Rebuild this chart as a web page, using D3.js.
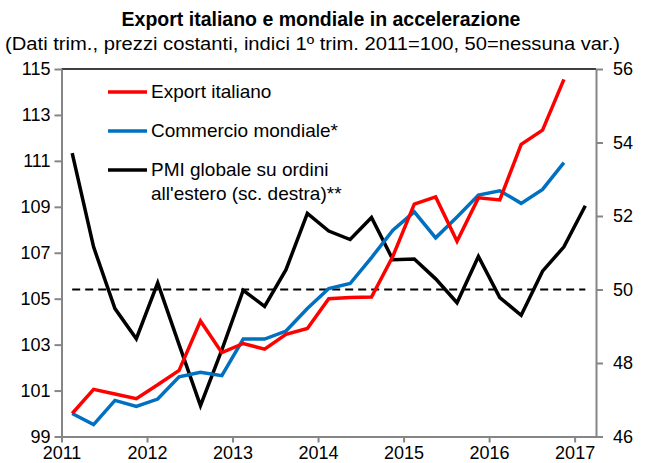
<!DOCTYPE html>
<html>
<head>
<meta charset="utf-8">
<script src="https://cdn.jsdelivr.net/npm/d3@7"></script>
<style>
  body { margin: 0; background: #fff; }
  svg { display: block; font-family: "Liberation Sans", Arial, sans-serif; }
</style>
</head>
<body>
<div id="chart"></div>
<script>
// Quarters from Q1 2011 to Q1 2017
const quarters = [
  "2011Q1", "2011Q2", "2011Q3", "2011Q4",
  "2012Q1", "2012Q2", "2012Q3", "2012Q4",
  "2013Q1", "2013Q2", "2013Q3", "2013Q4",
  "2014Q1", "2014Q2", "2014Q3", "2014Q4",
  "2015Q1", "2015Q2", "2015Q3", "2015Q4",
  "2016Q1", "2016Q2", "2016Q3", "2016Q4",
  "2017Q1"
];

// Export italiano (left axis, Q1 2011 = 100)
const exportIta = [
  100.0, 101.05, 100.85, 100.65, 101.25, 101.88, 104.03, 102.65,
  103.05, 102.8, 103.45, 103.7, 105.0, 105.05, 105.07, 106.85,
  109.12, 109.43, 107.5, 109.39, 109.3, 111.72, 112.34, 114.55
];

// Commercio mondiale (left axis)
const worldTrade = [
  100.0, 99.52, 100.57, 100.31, 100.63, 101.6, 101.8, 101.65,
  103.24, 103.24, 103.59, 104.57, 105.44, 105.66, 106.79, 107.98,
  108.78, 107.65, 108.56, 109.51, 109.7, 109.15, 109.76, 110.92
];

// PMI globale su ordini all'estero (right axis)
const pmiExport = [
  53.71, 51.16, 49.48, 48.66, 50.18, 48.5, 46.84, 48.36,
  49.98, 49.54, 50.54, 52.07, 51.59, 51.36, 51.96, 50.81,
  50.83, 50.29, 49.64, 50.9, 49.78, 49.3, 50.5, 51.16,
  52.28
];

// Axis ticks
const leftTicks = [99, 101, 103, 105, 107, 109, 111, 113, 115];
const rightTicks = [46, 48, 50, 52, 54, 56];
const yearLabels = ["2011", "2012", "2013", "2014", "2015", "2016", "2017"];
const noChange = 50;

const width = 647;
const height = 463;
const margin = {top: 69, right: 51, bottom: 26.5, left: 61.5};

const red = "#ff0000";
const blue = "#0070c0";
const black = "#000000";
const grey = "#868686";

const svg = d3.select("#chart")
  .append("svg")
  .attr("width", width)
  .attr("height", height);

// ------ Scales ------- //
const xScale = d3.scaleLinear()
  .domain([0, quarters.length])
  .range([margin.left, width - margin.right]);
const xPos = i => xScale(i + 0.5);

const yLeft = d3.scaleLinear()
  .domain([99, 115])
  .range([height - margin.bottom, margin.top]);
const yRight = d3.scaleLinear()
  .domain([46, 56])
  .range([height - margin.bottom, margin.top]);

// ------ Title ------- //
svg.append("text")
  .text("Export italiano e mondiale in accelerazione")
  .attr("x", 321)
  .attr("y", 26)
  .attr("text-anchor", "middle")
  .attr("font-size", 19.5)
  .attr("font-weight", "bold");
svg.append("text")
  .text("(Dati trim., prezzi costanti, indici 1º trim. 2011=100,  50=nessuna var.)")
  .attr("x", 5)
  .attr("y", 50)
  .attr("font-size", 17.5)
  .attr("textLength", 615)
  .attr("lengthAdjust", "spacingAndGlyphs");

// ------ Axes ------- //
// Top border
svg.append("line")
  .attr("x1", xScale(0))
  .attr("x2", xScale(quarters.length))
  .attr("y1", margin.top)
  .attr("y2", margin.top)
  .attr("stroke", black)
  .attr("stroke-width", 1.5);

const leftAxis = d3.axisLeft(yLeft)
  .tickValues(leftTicks)
  .tickSizeInner(7)
  .tickSizeOuter(0)
  .tickPadding(4);
svg.append("g")
  .attr("class", "axis")
  .attr("transform", `translate(${margin.left}, 0)`)
  .call(leftAxis);

const rightAxis = d3.axisRight(yRight)
  .tickValues(rightTicks)
  .tickSizeInner(7)
  .tickSizeOuter(0)
  .tickPadding(10);
svg.append("g")
  .attr("class", "axis")
  .attr("transform", `translate(${width - margin.right}, 0)`)
  .call(rightAxis);

const bottomAxis = d3.axisBottom(xScale)
  .tickValues(yearLabels.map((d, i) => i * 4))
  .tickFormat((d, i) => yearLabels[i])
  .tickSizeInner(6)
  .tickSizeOuter(0)
  .tickPadding(4);
svg.append("g")
  .attr("class", "axis")
  .attr("transform", `translate(0, ${height - margin.bottom})`)
  .call(bottomAxis);

svg.selectAll(".axis path, .axis line")
  .attr("stroke", grey)
  .attr("stroke-width", 2);
svg.selectAll(".axis text")
  .attr("fill", black)
  .attr("font-size", 18)
  .attr("font-family", "Liberation Sans, Arial, sans-serif");

// ------ Lines ------- //
// Dashed reference at PMI = 50
svg.append("line")
  .attr("x1", xPos(0))
  .attr("x2", xPos(quarters.length - 1))
  .attr("y1", yRight(noChange))
  .attr("y2", yRight(noChange))
  .attr("stroke", black)
  .attr("stroke-width", 2)
  .attr("stroke-dasharray", "8,5");

const lineLeft = d3.line()
  .x((d, i) => xPos(i))
  .y(d => yLeft(d));
const lineRight = d3.line()
  .x((d, i) => xPos(i))
  .y(d => yRight(d));

svg.append("path")
  .attr("d", lineRight(pmiExport))
  .attr("fill", "none")
  .attr("stroke", black)
  .attr("stroke-width", 3.5);
svg.append("path")
  .attr("d", lineLeft(worldTrade))
  .attr("fill", "none")
  .attr("stroke", blue)
  .attr("stroke-width", 3.5);
svg.append("path")
  .attr("d", lineLeft(exportIta))
  .attr("fill", "none")
  .attr("stroke", red)
  .attr("stroke-width", 3.5);

// ------ Legend ------- //
const legendItems = [
  {label: ["Export italiano"], color: red, y: 92},
  {label: ["Commercio mondiale*"], color: blue, y: 131},
  {label: ["PMI globale su ordini", "all'estero (sc. destra)**"], color: black, y: 170}
];
const legend = svg.append("g");
legendItems.forEach(item => {
  legend.append("line")
    .attr("x1", 108)
    .attr("x2", 147)
    .attr("y1", item.y)
    .attr("y2", item.y)
    .attr("stroke", item.color)
    .attr("stroke-width", 3.5);
  item.label.forEach((t, k) => {
    legend.append("text")
      .text(t)
      .attr("x", 151)
      .attr("y", item.y + 6 + k * 24)
      .attr("font-size", 19);
  });
});
</script>
</body>
</html>
